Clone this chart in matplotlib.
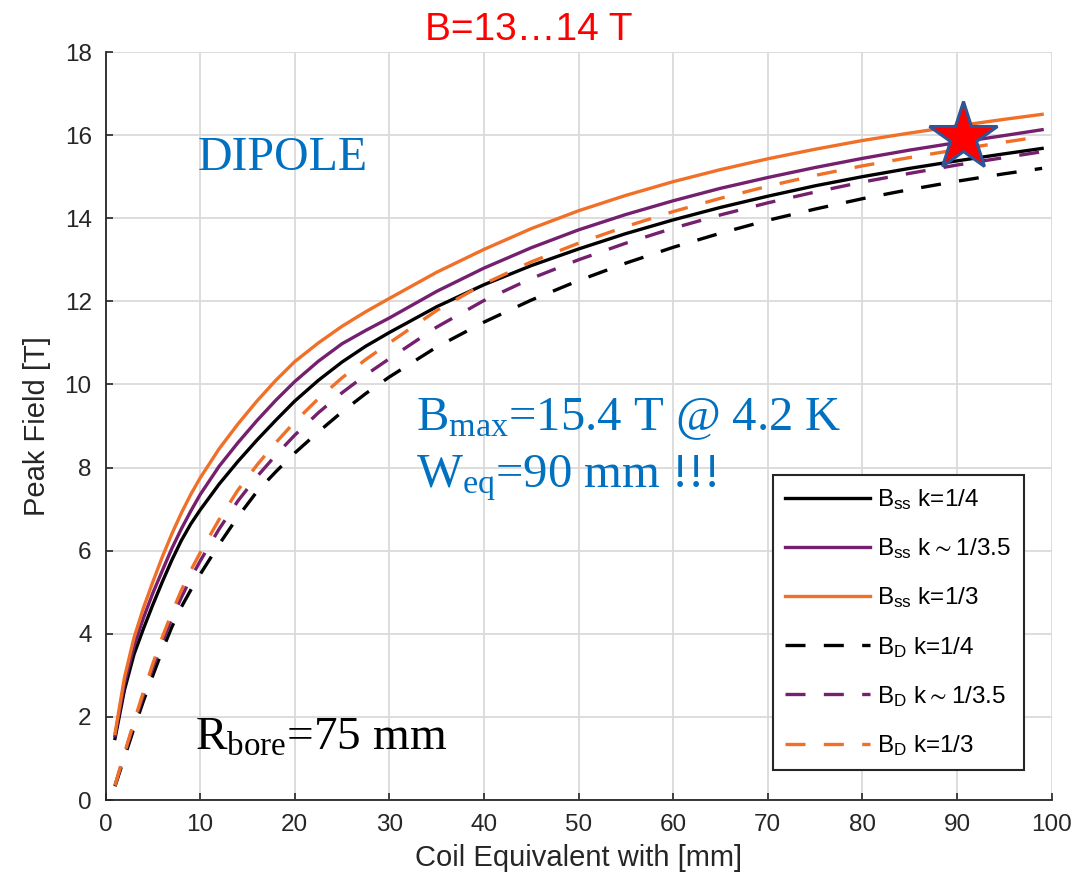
"""Peak field vs coil equivalent width for a 75 mm bore dipole."""

import matplotlib

matplotlib.use("Agg")
import matplotlib.pyplot as plt


# coil equivalent width [mm]
width_mm = [1, 2, 3, 4, 5, 6, 7, 8, 9, 10, 12, 14, 16, 18, 20, 22.5, 25, 27.5, 30,
            35, 40, 45, 50, 55, 60, 65, 70, 75, 80, 85, 90, 95, 99]

# short-sample field B_ss [T]
bss_k4 = [1.48, 2.65, 3.5, 4.12, 4.7, 5.25, 5.77, 6.24, 6.64, 6.98, 7.6, 8.15, 8.66,
          9.14, 9.6, 10.1, 10.54, 10.92, 11.25, 11.87, 12.4, 12.86, 13.26, 13.63,
          13.96, 14.26, 14.53, 14.78, 15.0, 15.2, 15.38, 15.55, 15.68]
bss_k35 = [1.55, 2.8, 3.7, 4.38, 4.98, 5.52, 6.05, 6.52, 6.95, 7.35, 8.03, 8.6, 9.13,
           9.62, 10.07, 10.56, 10.98, 11.3, 11.6, 12.24, 12.8, 13.29, 13.72, 14.09,
           14.42, 14.72, 14.98, 15.22, 15.44, 15.64, 15.82, 15.99, 16.13]
bss_k3 = [1.6, 2.95, 3.9, 4.62, 5.25, 5.85, 6.4, 6.9, 7.35, 7.75, 8.45, 9.05, 9.6,
          10.1, 10.55, 11.0, 11.4, 11.75, 12.07, 12.7, 13.25, 13.75, 14.18, 14.55,
          14.88, 15.17, 15.43, 15.66, 15.87, 16.05, 16.22, 16.38, 16.5]

# field from the current density model B_D [T]
bd_k4 = [0.33, 1.03, 1.72, 2.38, 3.0, 3.6, 4.16, 4.64, 5.05, 5.43, 6.15, 6.82, 7.42,
         7.9, 8.35, 8.86, 9.34, 9.78, 10.18, 10.9, 11.5, 12.03, 12.5, 12.92, 13.3,
         13.64, 13.95, 14.22, 14.47, 14.69, 14.89, 15.07, 15.2]
bd_k35 = [0.35, 1.1, 1.83, 2.52, 3.18, 3.8, 4.36, 4.87, 5.33, 5.75, 6.52, 7.2, 7.78,
          8.3, 8.78, 9.32, 9.8, 10.23, 10.62, 11.38, 12.02, 12.55, 13.0, 13.4, 13.76,
          14.08, 14.37, 14.63, 14.87, 15.08, 15.28, 15.46, 15.6]
bd_k3 = [0.35, 1.13, 1.88, 2.6, 3.28, 3.92, 4.5, 5.04, 5.52, 5.95, 6.75, 7.46, 8.06,
         8.6, 9.1, 9.66, 10.16, 10.6, 11.0, 11.78, 12.42, 12.95, 13.4, 13.8, 14.16,
         14.48, 14.77, 15.03, 15.26, 15.46, 15.65, 15.83, 15.97]

design_point = (90.6, 15.95)

BLACK = "#000000"
PURPLE = "#751F6F"
ORANGE = "#F07028"
BLUE = "#0070C0"

plt.rcParams["font.family"] = ["Liberation Sans", "DejaVu Sans"]
plt.rcParams["mathtext.default"] = "regular"

fig = plt.figure(figsize=(10.76, 8.89), dpi=100)
ax = fig.add_axes([0.0981, 0.1001, 0.8792, 0.8414])

dash = (0, (6, 5.5))
series = [
    (bss_k4, BLACK, "-", r"$B_{ss}$ k=1/4"),
    (bss_k35, PURPLE, "-", r"$B_{ss}$ k$\sim$1/3.5"),
    (bss_k3, ORANGE, "-", r"$B_{ss}$ k=1/3"),
    (bd_k4, BLACK, dash, r"$B_{D}$ k=1/4"),
    (bd_k35, PURPLE, dash, r"$B_{D}$ k$\sim$1/3.5"),
    (bd_k3, ORANGE, dash, r"$B_{D}$ k=1/3"),
]
for values, color, style, label in series:
    ax.plot(width_mm, values, color=color, linestyle=style, linewidth=2.4, label=label)

ax.plot(*design_point, marker="*", markersize=52, markerfacecolor="#FF0000",
        markeredgecolor="#2F5597", markeredgewidth=2.2, linestyle="none", zorder=5)

ax.set_xlim(0, 100)
ax.set_ylim(0, 18)
ax.set_xticks(range(0, 101, 10))
ax.set_yticks(range(0, 19, 2))
ax.grid(True, color="#DADADA", linewidth=1.3)
ax.set_axisbelow(True)
for side in ("top", "right"):
    ax.spines[side].set_visible(False)
for side in ("left", "bottom"):
    ax.spines[side].set_color("#262626")
    ax.spines[side].set_linewidth(1.3)
ax.tick_params(direction="in", length=5, width=1.2, colors="#262626", labelsize=17.5)
ax.tick_params(axis="x", pad=10)
ax.tick_params(axis="y", pad=10)

ax.set_xlabel("Coil Equivalent with [mm]", fontsize=21, color="#262626", labelpad=6)
ax.set_ylabel("Peak Field [T]", fontsize=21, color="#262626", labelpad=10)

serif = ["Liberation Serif", "DejaVu Serif"]
ax.text(9.77, 15.15, "DIPOLE", family=serif, fontsize=34.5, color=BLUE, va="baseline")
ax.text(32.8, 8.9, r"$B_{max}$=15.4 T @ 4.2 K", family=serif, fontsize=35,
        color=BLUE, va="baseline")
ax.text(32.8, 7.52, r"$W_{eq}$=90 mm !!!", family=serif, fontsize=35,
        color=BLUE, va="baseline")
ax.text(9.45, 1.22, r"$R_{bore}$=75 mm", family=serif, fontsize=34,
        color=BLACK, va="baseline")

fig.text(0.4916, 1 - 40 / 889, "B=13…14 T", fontsize=28, color="#FF0000",
         ha="center", va="baseline")

leg = ax.legend(loc="upper left", bbox_to_anchor=(0.7055, 0.4345), borderaxespad=0,
                fontsize=17.5, handlelength=3.5, handletextpad=0.3, labelspacing=1.0,
                fancybox=False, framealpha=1, borderpad=0.5)
leg.get_frame().set_edgecolor("#262626")
leg.get_frame().set_linewidth(1.5)

fig.savefig("out.png", dpi=100)
